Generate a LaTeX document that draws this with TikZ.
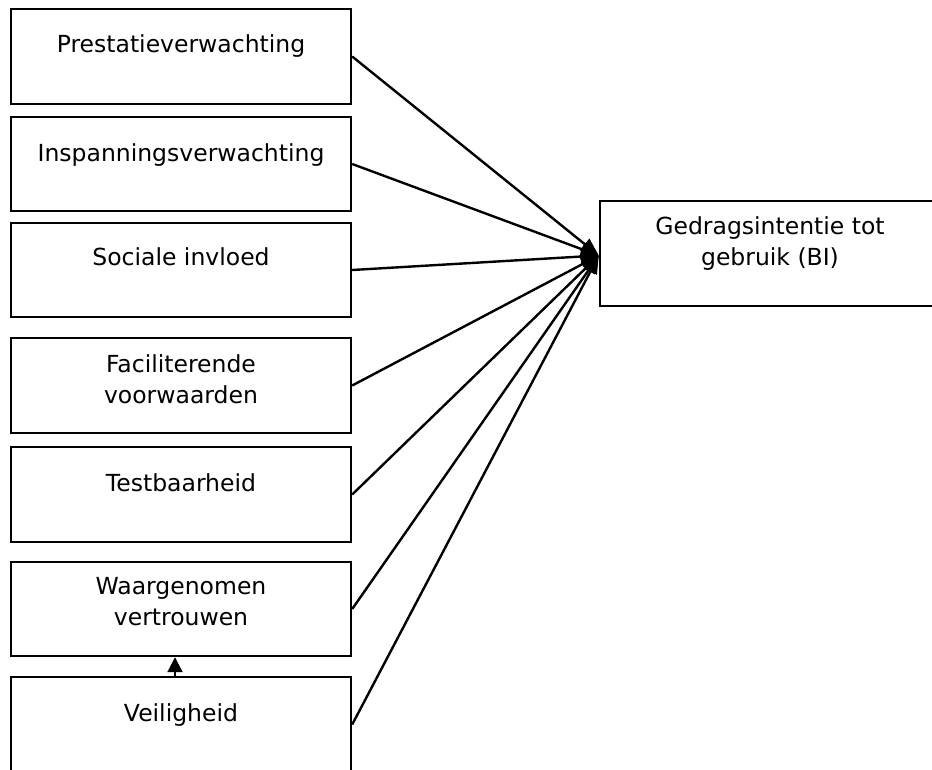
\documentclass[tikz,border=0pt]{standalone}
\usepackage{fontspec}
\setmainfont{DejaVu Sans}
\usetikzlibrary{arrows.meta,calc}
\begin{document}
\begin{tikzpicture}[x=1pt,y=-1pt,
  box/.style={draw,line width=2.4pt,rectangle,minimum width=340pt,inner sep=0pt},
  lbl/.style={font=\fontsize{23.5}{31.5}\selectfont,align=center,inner sep=0pt,anchor=base},
  conn/.style={line width=2.4pt,-{Triangle[length=18pt,width=14pt]}},
  small/.style={line width=2pt,-{Triangle[length=15pt,width=15pt]}}]
\useasboundingbox (0,0) rectangle (932,769);
\node[box,minimum height=95pt] (pe) at (181,56.5) {};
\node[box,minimum height=94pt] (ie) at (181,164) {};
\node[box,minimum height=94pt] (si) at (181,270) {};
\node[box,minimum height=95pt] (fv) at (181,385.5) {};
\node[box,minimum height=95pt] (tb) at (181,494.5) {};
\node[box,minimum height=94pt] (wv) at (181,609) {};
\node[box,minimum height=95pt] (vh) at (181,724.5) {};
\node[box,minimum height=105pt] (bi) at (770,253.5) {};
\node[lbl] at ($(pe.north)+(0,45)$) {Prestatieverwachting};
\node[lbl] at ($(ie.north)+(0,46)$) {Inspanningsverwachting};
\node[lbl] at ($(si.north)+(0,44)$) {Sociale invloed};
\node[lbl] at ($(fv.north)+(0,67)$) {Faciliterende\\voorwaarden};
\node[lbl] at ($(tb.north)+(0,46)$) {Testbaarheid};
\node[lbl] at ($(wv.north)+(0,65)$) {Waargenomen\\vertrouwen};
\node[lbl] at ($(vh.north)+(0,46)$) {Veiligheid};
\node[lbl] at ($(bi.north)+(0,66)$) {Gedragsintentie tot\\gebruik (BI)};
\coordinate (tip) at ($(bi.west)+(0,2)$);
\foreach \n in {pe,ie,si,fv,tb,wv,vh} \draw[conn] (\n.east) -- (tip);
\draw[small] ($(vh.north)+(-6,0)$) -- ($(wv.south)+(-6,0)$);
\end{tikzpicture}
\end{document}
